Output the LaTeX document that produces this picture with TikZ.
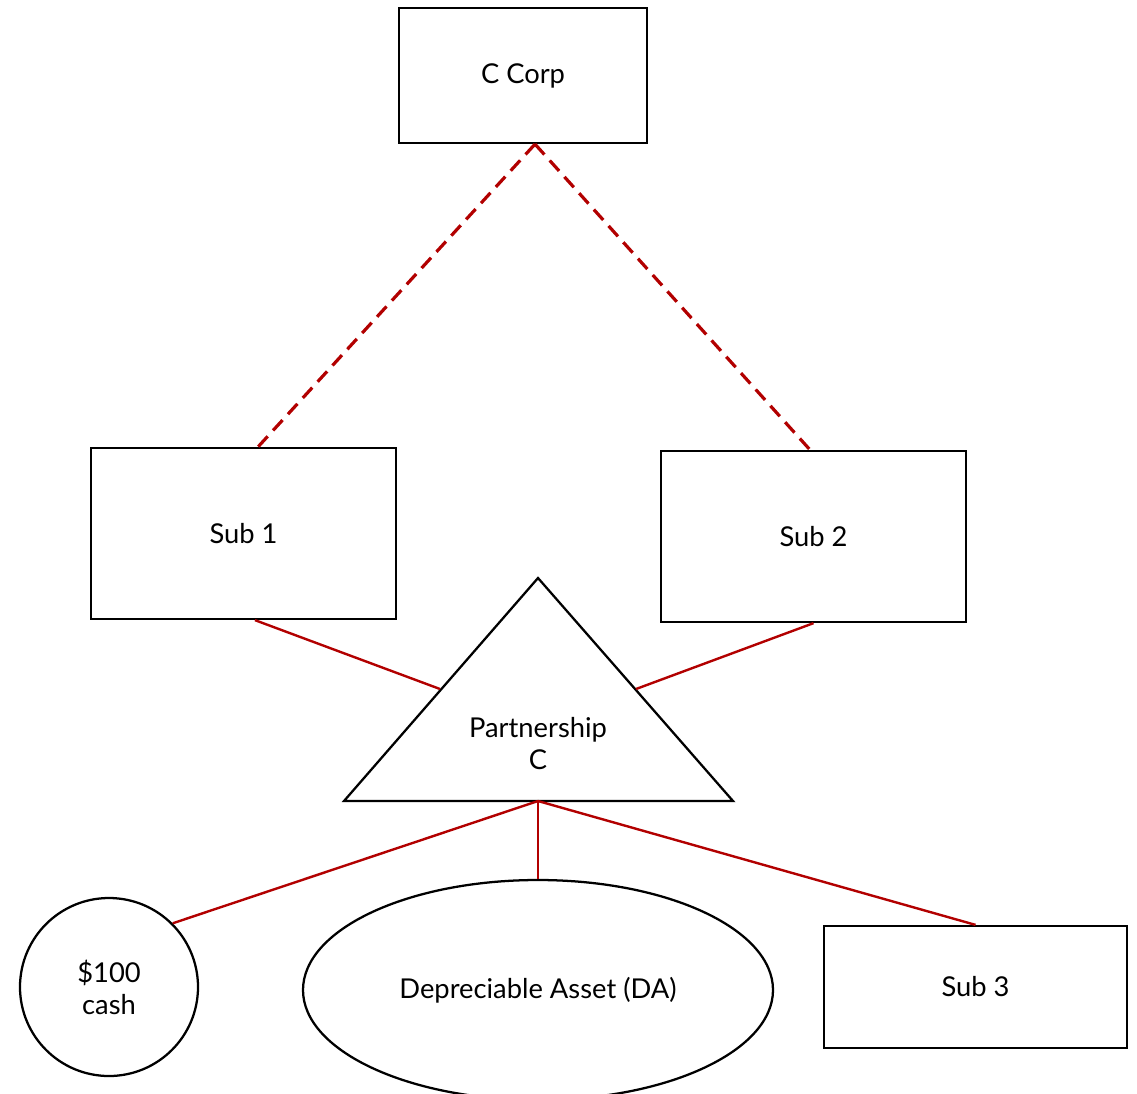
\documentclass[tikz,border=0pt]{standalone}
\usepackage{fontspec}
\setmainfont{Lato}
\usetikzlibrary{shapes.geometric,calc}
\definecolor{linkred}{HTML}{B20000}
\begin{document}
\begin{tikzpicture}[x=0.75pt,y=-0.75pt,
  box/.style={draw=black,line width=1.7pt,fill=white,inner sep=0pt,align=center,font=\fontsize{20.5}{24}\selectfont},
  lbl/.style={inner sep=0pt,align=center,font=\fontsize{20.5}{24}\selectfont},
  dashlink/.style={draw=linkred,line width=2.4pt,dash pattern=on 10.5pt off 6pt},
  link/.style={draw=linkred,line width=1.8pt}]
\useasboundingbox (0,0) rectangle (1137,1093);
% nodes
\node[box,minimum width=186pt,minimum height=101.25pt] (cc) at (523,75.5) {C Corp};
\node[box,minimum width=228.75pt,minimum height=128.25pt] (s1) at (243.5,533.5) {Sub 1};
\node[box,minimum width=228.75pt,minimum height=128.25pt] (s2) at (813.5,536.5) {Sub 2};
\node[box,minimum width=227.25pt,minimum height=91.5pt] (s3) at (975.5,987) {Sub 3};
\node[box,circle,minimum size=133.5pt] (circ) at (109,987) {\$100\\cash};
\node[box,ellipse,minimum width=352.5pt,minimum height=165pt] (el) at (538,990) {Depreciable Asset (DA)};
% triangle
\coordinate (tA) at (538,578);
\coordinate (tL) at (344,801);
\coordinate (tR) at (733,801);
\coordinate (tB) at (538,801);
\draw[line width=1.7pt,fill=white,line join=miter] (tA) -- (tR) -- (tL) -- cycle;
\node[lbl] (part) at (538,744) {Partnership\\C};
\coordinate (e1) at (440,689);
\coordinate (e2) at (636,689);
% connectors
\draw[dashlink] ([xshift=9pt]cc.south) -- ([xshift=10.9pt]s1.north);
\draw[dashlink] ([xshift=9pt]cc.south) -- ([xshift=-2.6pt]s2.north);
\draw[link] ([xshift=8.6pt]s1.south) -- (e1);
\draw[link] (s2.south) -- (e2);
\draw[link] (tB) -- (circ.north east);
\draw[link] (tB) -- (el.north);
\draw[link] (tB) -- (s3.north);
\end{tikzpicture}
\end{document}
